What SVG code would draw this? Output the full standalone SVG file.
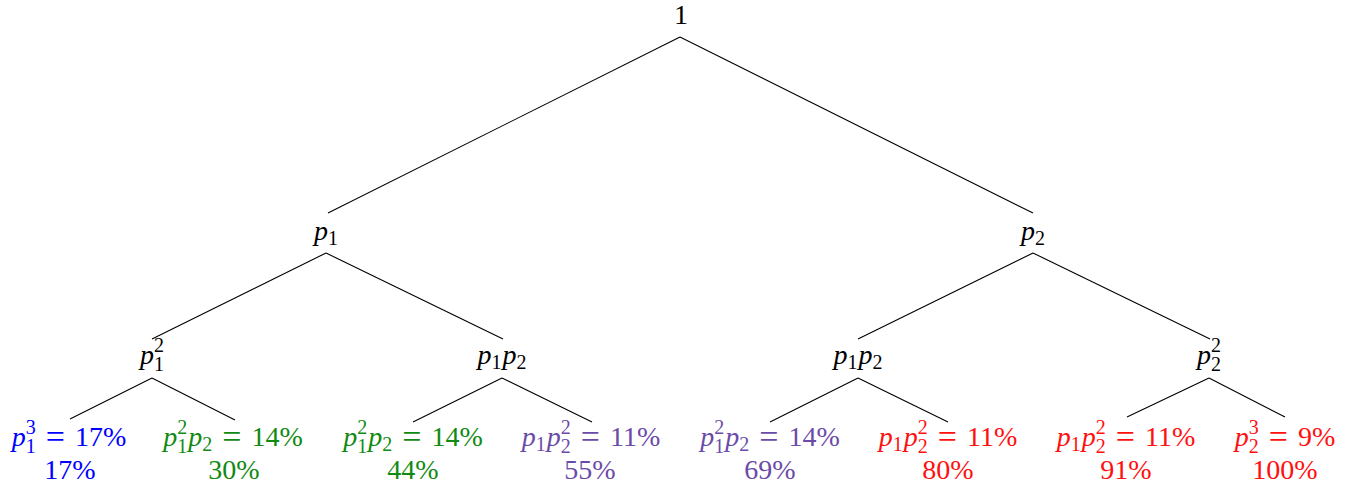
<svg xmlns="http://www.w3.org/2000/svg" width="1353" height="491" viewBox="0 0 1353 491">
<style>
text{font-family:"Liberation Serif","Times New Roman",serif;font-size:28px;text-anchor:middle;fill:#000}
.i{font-style:italic}
.s{font-size:20px}
.eq{font-size:34px}
.blue{fill:#0000FF}
.green{fill:#118A11}
.purple{fill:#6B4BA8}
.red{fill:#FF1010}
.edges line{stroke:#000;stroke-width:1.1}
</style>
<rect width="1353" height="491" fill="#fff"/>
<g id="connectors" class="edges">
<line x1="680" y1="37" x2="328" y2="213"/>
<line x1="680" y1="37" x2="1033" y2="213"/>
<line x1="326" y1="253" x2="152" y2="339"/>
<line x1="326" y1="253" x2="503" y2="339"/>
<line x1="1033" y1="253" x2="858" y2="339"/>
<line x1="1033" y1="253" x2="1210" y2="339"/>
<line x1="152" y1="378" x2="70" y2="419"/>
<line x1="152" y1="378" x2="235" y2="420"/>
<line x1="502" y1="378" x2="413" y2="422"/>
<line x1="502" y1="378" x2="592" y2="422"/>
<line x1="858" y1="378" x2="770" y2="422"/>
<line x1="858" y1="378" x2="948" y2="422"/>
<line x1="1209" y1="378" x2="1127" y2="417"/>
<line x1="1209" y1="378" x2="1285" y2="417"/>
</g>
<g id="root"><text x="681" y="24">1</text></g>
<g id="n-p1"><text x="326" y="240"><tspan class="i">p</tspan><tspan class="s" dy="5">1</tspan></text></g>
<g id="n-p2"><text x="1033" y="240"><tspan class="i">p</tspan><tspan class="s" dy="5">2</tspan></text></g>
<g id="n-p1sq"><text x="152" y="364"><tspan class="i">p</tspan><tspan class="s" dy="-12">2</tspan><tspan class="s" dx="-10" dy="19">1</tspan></text></g>
<g id="n-p1p2-a"><text x="502" y="364"><tspan class="i">p</tspan><tspan class="s" dy="5">1</tspan><tspan class="i" dx="1" dy="-5">p</tspan><tspan class="s" dy="5">2</tspan></text></g>
<g id="n-p1p2-b"><text x="858" y="364"><tspan class="i">p</tspan><tspan class="s" dy="5">1</tspan><tspan class="i" dx="1" dy="-5">p</tspan><tspan class="s" dy="5">2</tspan></text></g>
<g id="n-p2sq"><text x="1209" y="364"><tspan class="i">p</tspan><tspan class="s" dy="-12">2</tspan><tspan class="s" dx="-10" dy="19">2</tspan></text></g>
<g id="leaf1">
<text x="69" y="446" class="blue"><tspan class="i">p</tspan><tspan class="s" dy="-12">3</tspan><tspan class="s" dx="-10" dy="19">1</tspan><tspan dx="3" dy="-7"> </tspan><tspan class="eq" dy="2">=</tspan><tspan dx="3" dy="-2"> 17%</tspan></text>
<text x="70" y="479" class="blue">17%</text>
</g>
<g id="leaf2">
<text x="233" y="446" class="green"><tspan class="i">p</tspan><tspan class="s" dy="-12">2</tspan><tspan class="s" dx="-10" dy="19">1</tspan><tspan class="i" dx="1" dy="-7">p</tspan><tspan class="s" dy="5">2</tspan><tspan dx="3" dy="-5"> </tspan><tspan class="eq" dy="2">=</tspan><tspan dx="3" dy="-2"> 14%</tspan></text>
<text x="234" y="479" class="green">30%</text>
</g>
<g id="leaf3">
<text x="413" y="446" class="green"><tspan class="i">p</tspan><tspan class="s" dy="-12">2</tspan><tspan class="s" dx="-10" dy="19">1</tspan><tspan class="i" dx="1" dy="-7">p</tspan><tspan class="s" dy="5">2</tspan><tspan dx="3" dy="-5"> </tspan><tspan class="eq" dy="2">=</tspan><tspan dx="3" dy="-2"> 14%</tspan></text>
<text x="413" y="479" class="green">44%</text>
</g>
<g id="leaf4">
<text x="591" y="446" class="purple"><tspan class="i">p</tspan><tspan class="s" dy="5">1</tspan><tspan class="i" dx="1" dy="-5">p</tspan><tspan class="s" dy="-12">2</tspan><tspan class="s" dx="-10" dy="19">2</tspan><tspan dx="3" dy="-7"> </tspan><tspan class="eq" dy="2">=</tspan><tspan dx="3" dy="-2"> 11%</tspan></text>
<text x="590" y="479" class="purple">55%</text>
</g>
<g id="leaf5">
<text x="770" y="446" class="purple"><tspan class="i">p</tspan><tspan class="s" dy="-12">2</tspan><tspan class="s" dx="-10" dy="19">1</tspan><tspan class="i" dx="1" dy="-7">p</tspan><tspan class="s" dy="5">2</tspan><tspan dx="3" dy="-5"> </tspan><tspan class="eq" dy="2">=</tspan><tspan dx="3" dy="-2"> 14%</tspan></text>
<text x="770" y="479" class="purple">69%</text>
</g>
<g id="leaf6">
<text x="948" y="446" class="red"><tspan class="i">p</tspan><tspan class="s" dy="5">1</tspan><tspan class="i" dx="1" dy="-5">p</tspan><tspan class="s" dy="-12">2</tspan><tspan class="s" dx="-10" dy="19">2</tspan><tspan dx="3" dy="-7"> </tspan><tspan class="eq" dy="2">=</tspan><tspan dx="3" dy="-2"> 11%</tspan></text>
<text x="948" y="479" class="red">80%</text>
</g>
<g id="leaf7">
<text x="1126" y="446" class="red"><tspan class="i">p</tspan><tspan class="s" dy="5">1</tspan><tspan class="i" dx="1" dy="-5">p</tspan><tspan class="s" dy="-12">2</tspan><tspan class="s" dx="-10" dy="19">2</tspan><tspan dx="3" dy="-7"> </tspan><tspan class="eq" dy="2">=</tspan><tspan dx="3" dy="-2"> 11%</tspan></text>
<text x="1126" y="479" class="red">91%</text>
</g>
<g id="leaf8">
<text x="1285" y="446" class="red"><tspan class="i">p</tspan><tspan class="s" dy="-12">3</tspan><tspan class="s" dx="-10" dy="19">2</tspan><tspan dx="3" dy="-7"> </tspan><tspan class="eq" dy="2">=</tspan><tspan dx="3" dy="-2"> 9%</tspan></text>
<text x="1285" y="479" class="red">100%</text>
</g>
</svg>
